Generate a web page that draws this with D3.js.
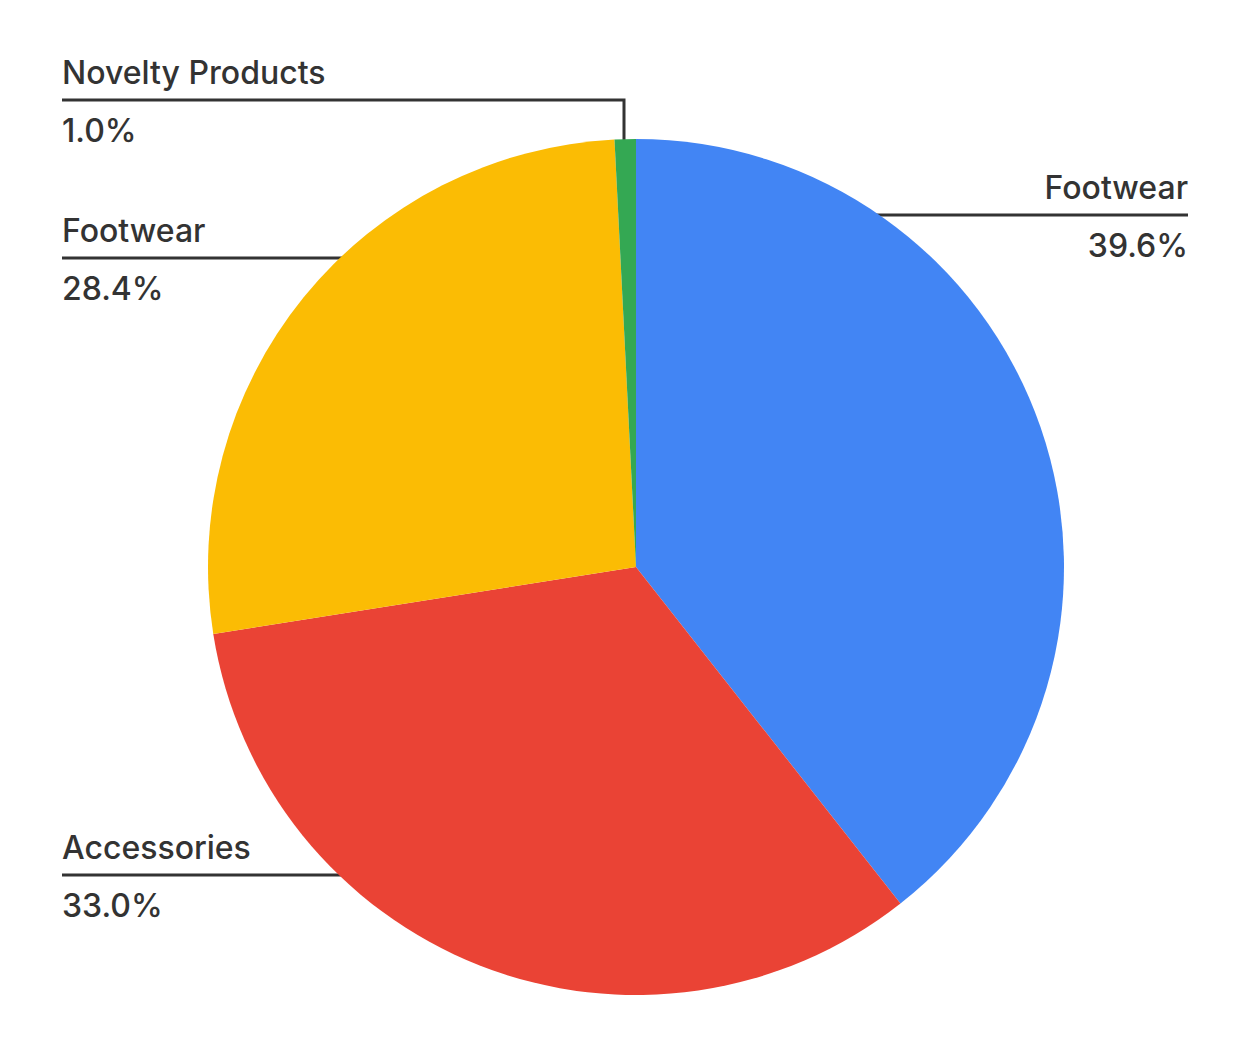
<!DOCTYPE html>
<html>
<head>
<meta charset="utf-8">
<script src="https://cdn.jsdelivr.net/npm/d3@7"></script>
<style>
  body { margin: 0; background: #fff; }
  text { font-family: Inter, "Open Sans", sans-serif; font-weight: 500; fill: #333; }
</style>
</head>
<body>
<div id="chart"></div>
<script>
// slice order clockwise from 12 o'clock
var categories = ["Footwear", "Accessories", "Footwear", "Novelty Products"];
var shares = [39.4, 33.1, 26.7, 0.8];          // slice sizes as drawn
var pctLabels = ["39.6%", "33.0%", "28.4%", "1.0%"];
var colors = ["#4285f4", "#ea4335", "#fbbc04", "#34a853"];

var W = 1250, H = 1055, cx = 636, cy = 567, R = 428;

var svg = d3.select("#chart").append("svg").attr("width", W).attr("height", H);

var pie = d3.pie().sort(null).value(function(d){ return d; });
var arcs = pie(shares);
var arc = d3.arc().innerRadius(0).outerRadius(R);

// leader lines (drawn first so the pie covers their ends)
var lines = svg.append("g");
var labelY = [215, 875, 258, 100];   // y of each horizontal leader
var side = [1, -1, -1, -1];

function edgeX(y, s){ return cx + s * Math.sqrt(R * R - (y - cy) * (y - cy)); }

arcs.forEach(function(a, i){
  var y = labelY[i], s = side[i], pts;
  if (i == 3) {
    var vx = 624;
    pts = [[62, y], [vx, y], [vx, cy - Math.sqrt(R * R - (vx - cx) * (vx - cx)) + 2]];
  } else if (s > 0) {
    pts = [[edgeX(y, s) - 4, y], [1188, y]];
  } else {
    pts = [[62, y], [edgeX(y, s) + 4, y]];
  }
  lines.append("path").attr("d", d3.line()(pts))
    .attr("fill", "none").attr("stroke", "#333").attr("stroke-width", 3);
});

svg.append("g").attr("transform", "translate(" + cx + "," + cy + ")")
  .selectAll("path").data(arcs).enter().append("path")
  .attr("d", arc)
  .attr("fill", function(d, i){ return colors[i]; });

var labels = svg.append("g");
arcs.forEach(function(a, i){
  var y = labelY[i], s = side[i];
  var x = s > 0 ? 1188 : 62, anchor = s > 0 ? "end" : "start";
  labels.append("text").attr("x", x).attr("y", y - 16).attr("text-anchor", anchor)
    .attr("font-size", 32).text(categories[i]);
  labels.append("text").attr("x", x).attr("y", y + 42).attr("text-anchor", anchor)
    .attr("font-size", 32).text(pctLabels[i]);
});
</script>
</body>
</html>
